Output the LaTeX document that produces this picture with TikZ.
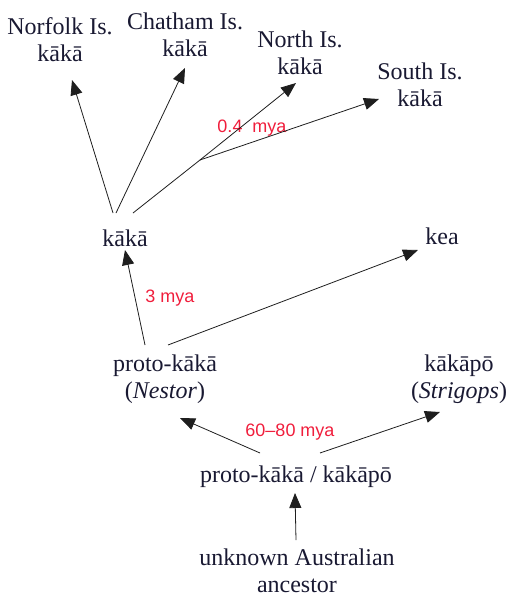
\documentclass[tikz,border=0pt]{standalone}
\usepackage{fontspec}
\setmainfont{Liberation Serif}
\newfontfamily\redfont{Liberation Sans}
\usetikzlibrary{arrows.meta,calc}
\definecolor{txt}{RGB}{25,25,50}
\definecolor{lbl}{RGB}{240,30,60}
\definecolor{ln}{RGB}{30,30,30}
\begin{document}
\begin{tikzpicture}[x=1pt,y=-1pt,
  taxon/.style={font=\fontsize{24}{27}\selectfont, text=txt, align=center, inner sep=0pt},
  age/.style={font=\redfont\fontsize{18}{20}\selectfont, text=lbl, inner sep=0pt},
  arr/.style={draw=ln, line width=0.8pt, -{Triangle[length=15pt,width=12pt]}},
  ln/.style={draw=ln, line width=0.8pt}]
\useasboundingbox (0,0) rectangle (508,597);
\node[taxon] (norfolk) at (60,40) {Norfolk Is.\\k\=ak\=a};
\node[taxon] (chatham) at (185,35) {Chatham Is.\\k\=ak\=a};
\node[taxon] (north) at (300,53) {North Is.\\k\=ak\=a};
\node[taxon] (south) at (420,85) {South Is.\\k\=ak\=a};
\node[taxon] (kaka) at (125,238) {k\=ak\=a};
\node[taxon] (kea) at (442,236) {kea};
\node[taxon] (nestor) at (165,379) {proto-k\=ak\=a\\(\textit{Nestor})};
\node[taxon] (strigops) at (459,379) {k\=ak\=ap\=o\\(\textit{Strigops})};
\node[taxon] (pk) at (296,477) {proto-k\=ak\=a / k\=ak\=ap\=o};
\node[taxon] (anc) at (297,571) {unknown Australian\\ancestor};
\coordinate (br) at (200,160);
\node[age] (l04) at (252,128) {0.4\ \ mya};
\node[age] (l3) at (170,298) {3 mya};
\node[age] (l60) at (290,432) {60\textendash 80 mya};
\draw[arr] ([shift={(-12,-25)}]kaka.center) -- ([shift={(12,40)}]norfolk.center);
\draw[arr] ([shift={(-9,-25)}]kaka.center) -- ([shift={(0,33)}]chatham.center);
\draw[ln] ([shift={(8,-25)}]kaka.center) -- (br);
\draw[arr] (br) -- ([shift={(-4,30)}]north.center);
\draw[arr] (br) -- ([shift={(-41,14)}]south.center);
\draw[arr] ([shift={(-20,-34)}]nestor.center) -- ([shift={(0,12)}]kaka.center);
\draw[arr] ([shift={(3,-34)}]nestor.center) -- ([shift={(-24,14)}]kea.center);
\draw[arr] ([shift={(-36,-24)}]pk.center) -- ([shift={(15,39)}]nestor.center);
\draw[arr] ([shift={(24,-24)}]pk.center) -- ([shift={(-19,33)}]strigops.center);
\draw[arr] ([shift={(-1,-31)}]anc.center) -- ([shift={(-1,16)}]pk.center);
\end{tikzpicture}
\end{document}
